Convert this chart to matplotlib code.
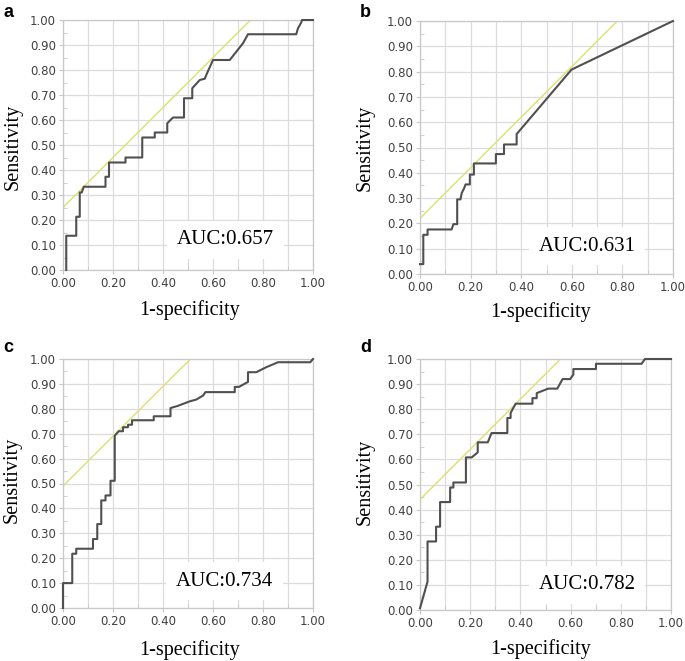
import numpy as np
import matplotlib.pyplot as plt
from matplotlib.ticker import MultipleLocator

# ROC curve vertices (1-specificity, sensitivity)
a_fpr = [0.013, 0.013, 0.053, 0.053, 0.067, 0.067, 0.075, 0.083, 0.17, 0.17, 0.184, 0.184,
         0.25, 0.25, 0.317, 0.317, 0.367, 0.367, 0.417, 0.417, 0.44, 0.484, 0.484, 0.517,
         0.517, 0.547, 0.567, 0.573, 0.6, 0.667, 0.72, 0.74, 0.933, 0.94, 0.953, 0.956, 1.0]
a_tpr = [0.0, 0.137, 0.137, 0.213, 0.213, 0.31, 0.31, 0.333, 0.333, 0.373, 0.373, 0.43,
         0.43, 0.45, 0.45, 0.53, 0.53, 0.55, 0.55, 0.587, 0.61, 0.61, 0.687, 0.687,
         0.727, 0.76, 0.765, 0.78, 0.84, 0.84, 0.907, 0.943, 0.943, 0.967, 0.99, 1.0, 1.0]

b_fpr = [0.0, 0.013, 0.013, 0.03, 0.03, 0.125, 0.132, 0.147, 0.147, 0.16, 0.165, 0.174,
         0.18, 0.197, 0.197, 0.213, 0.213, 0.3, 0.3, 0.332, 0.332, 0.382, 0.382, 0.599, 1.0]
b_tpr = [0.039, 0.039, 0.155, 0.155, 0.176, 0.176, 0.197, 0.197, 0.295, 0.295, 0.32, 0.338,
         0.354, 0.354, 0.393, 0.393, 0.437, 0.437, 0.474, 0.474, 0.512, 0.512, 0.553, 0.808, 1.0]

c_fpr = [0.0, 0.0, 0.037, 0.037, 0.053, 0.053, 0.12, 0.12, 0.137, 0.137, 0.153, 0.153,
         0.17, 0.17, 0.19, 0.19, 0.207, 0.207, 0.223, 0.24, 0.24, 0.26, 0.26, 0.276, 0.276,
         0.363, 0.363, 0.43, 0.43, 0.46, 0.507, 0.533, 0.56, 0.57, 0.687, 0.687, 0.704,
         0.74, 0.74, 0.773, 0.813, 0.86, 0.989, 1.0]
c_tpr = [0.0, 0.1, 0.1, 0.218, 0.218, 0.238, 0.238, 0.277, 0.277, 0.337, 0.337, 0.432,
         0.432, 0.452, 0.452, 0.511, 0.511, 0.692, 0.71, 0.71, 0.726, 0.726, 0.736, 0.736,
         0.754, 0.754, 0.77, 0.77, 0.803, 0.812, 0.83, 0.837, 0.853, 0.867, 0.867, 0.888,
         0.888, 0.908, 0.947, 0.947, 0.967, 0.987, 0.987, 1.0]

d_fpr = [0.0, 0.03, 0.03, 0.064, 0.064, 0.08, 0.08, 0.12, 0.12, 0.133, 0.133, 0.183,
         0.183, 0.206, 0.23, 0.23, 0.27, 0.285, 0.348, 0.348, 0.361, 0.361, 0.381, 0.448,
         0.448, 0.465, 0.465, 0.511, 0.547, 0.568, 0.598, 0.611, 0.611, 0.701, 0.701,
         0.883, 0.896, 1.0]
d_tpr = [0.007, 0.113, 0.273, 0.273, 0.332, 0.332, 0.43, 0.43, 0.488, 0.488, 0.508, 0.508,
         0.608, 0.608, 0.628, 0.668, 0.668, 0.705, 0.705, 0.765, 0.765, 0.785, 0.822, 0.822,
         0.844, 0.844, 0.864, 0.882, 0.882, 0.92, 0.92, 0.938, 0.96, 0.96, 0.981,
         0.981, 1.0, 1.0]

panels = ['a', 'b', 'c', 'd']
auc_values = ['0.657', '0.631', '0.734', '0.782']
# intercept of the slope-1 tangent line in each panel
tangent_intercepts = [0.25, 0.22, 0.49, 0.44]

curves = [(a_fpr, a_tpr), (b_fpr, b_tpr), (c_fpr, c_tpr), (d_fpr, d_tpr)]

W, H = 685, 661
# axes boxes in pixels: left, top, right, bottom
boxes = [(63, 20, 313, 270), (420, 21, 673, 274), (63, 359, 313, 608), (420, 359, 671, 610)]
auc_pos = [(0.65, 0.12), (0.66, 0.11), (0.645, 0.108), (0.665, 0.10)]
letter_pos = [(3, 4), (360, 4), (3, 339), (360, 339)]
ylabel_pos = [(13, 147), (365, 148), (12, 480), (365, 482)]
xlabel_pos = [(190, 310), (541, 312), (190, 650), (541, 649)]

fig = plt.figure(figsize=(W / 100, H / 100), dpi=100)

serif = 'Liberation Serif'
grey = '#c8c8c8'

for i, name in enumerate(panels):
    l, t, r, b = boxes[i]
    ax = fig.add_axes([l / W, 1 - b / H, (r - l) / W, (b - t) / H])
    ax.set_xlim(0, 1)
    ax.set_ylim(0, 1)

    # gridlines every 0.1
    ax.xaxis.set_major_locator(MultipleLocator(0.2))
    ax.xaxis.set_minor_locator(MultipleLocator(0.1))
    ax.yaxis.set_major_locator(MultipleLocator(0.1))
    ax.yaxis.set_minor_locator(MultipleLocator(0.05))
    ax.grid(True, which='major', color='#dcdcdc', lw=0.9)
    ax.grid(True, axis='x', which='minor', color='#dcdcdc', lw=0.9)
    ax.xaxis.set_major_formatter(lambda v, p: f'{v:.2f}')
    ax.yaxis.set_major_formatter(lambda v, p: f'{v:.2f}')
    ax.tick_params(which='major', length=3, color=grey, labelsize=8.5,
                   labelcolor='#404040', pad=2)
    ax.tick_params(which='minor', length=3, color=grey, direction='in')
    for s in ax.spines.values():
        s.set_color(grey)
        s.set_linewidth(0.9)
    ax.set_axisbelow(True)

    bi = tangent_intercepts[i]
    ax.plot([0, 1 - bi], [bi, 1], color='#dfe27a', lw=1.1, zorder=2)

    fpr, tpr = curves[i]
    ax.plot(fpr, tpr, color='#505050', lw=1.5, zorder=3, clip_on=False)

    ax.text(auc_pos[i][0], auc_pos[i][1], 'AUC:' + auc_values[i], family=serif,
            fontsize=15, ha='center', va='center', zorder=4,
            bbox=dict(facecolor='white', edgecolor='none', pad=7))

    fig.text(letter_pos[i][0] / W, 1 - letter_pos[i][1] / H, name,
             family='Liberation Sans', weight='bold', fontsize=13, ha='left', va='top')
    fig.text(ylabel_pos[i][0] / W, 1 - ylabel_pos[i][1] / H, 'Sensitivity',
             family=serif, fontsize=14.5, rotation=90, ha='center', va='center')
    fig.text(xlabel_pos[i][0] / W, 1 - xlabel_pos[i][1] / H, '1-specificity',
             family=serif, fontsize=14.5, ha='center', va='center')

fig.savefig('out.png', dpi=100)
